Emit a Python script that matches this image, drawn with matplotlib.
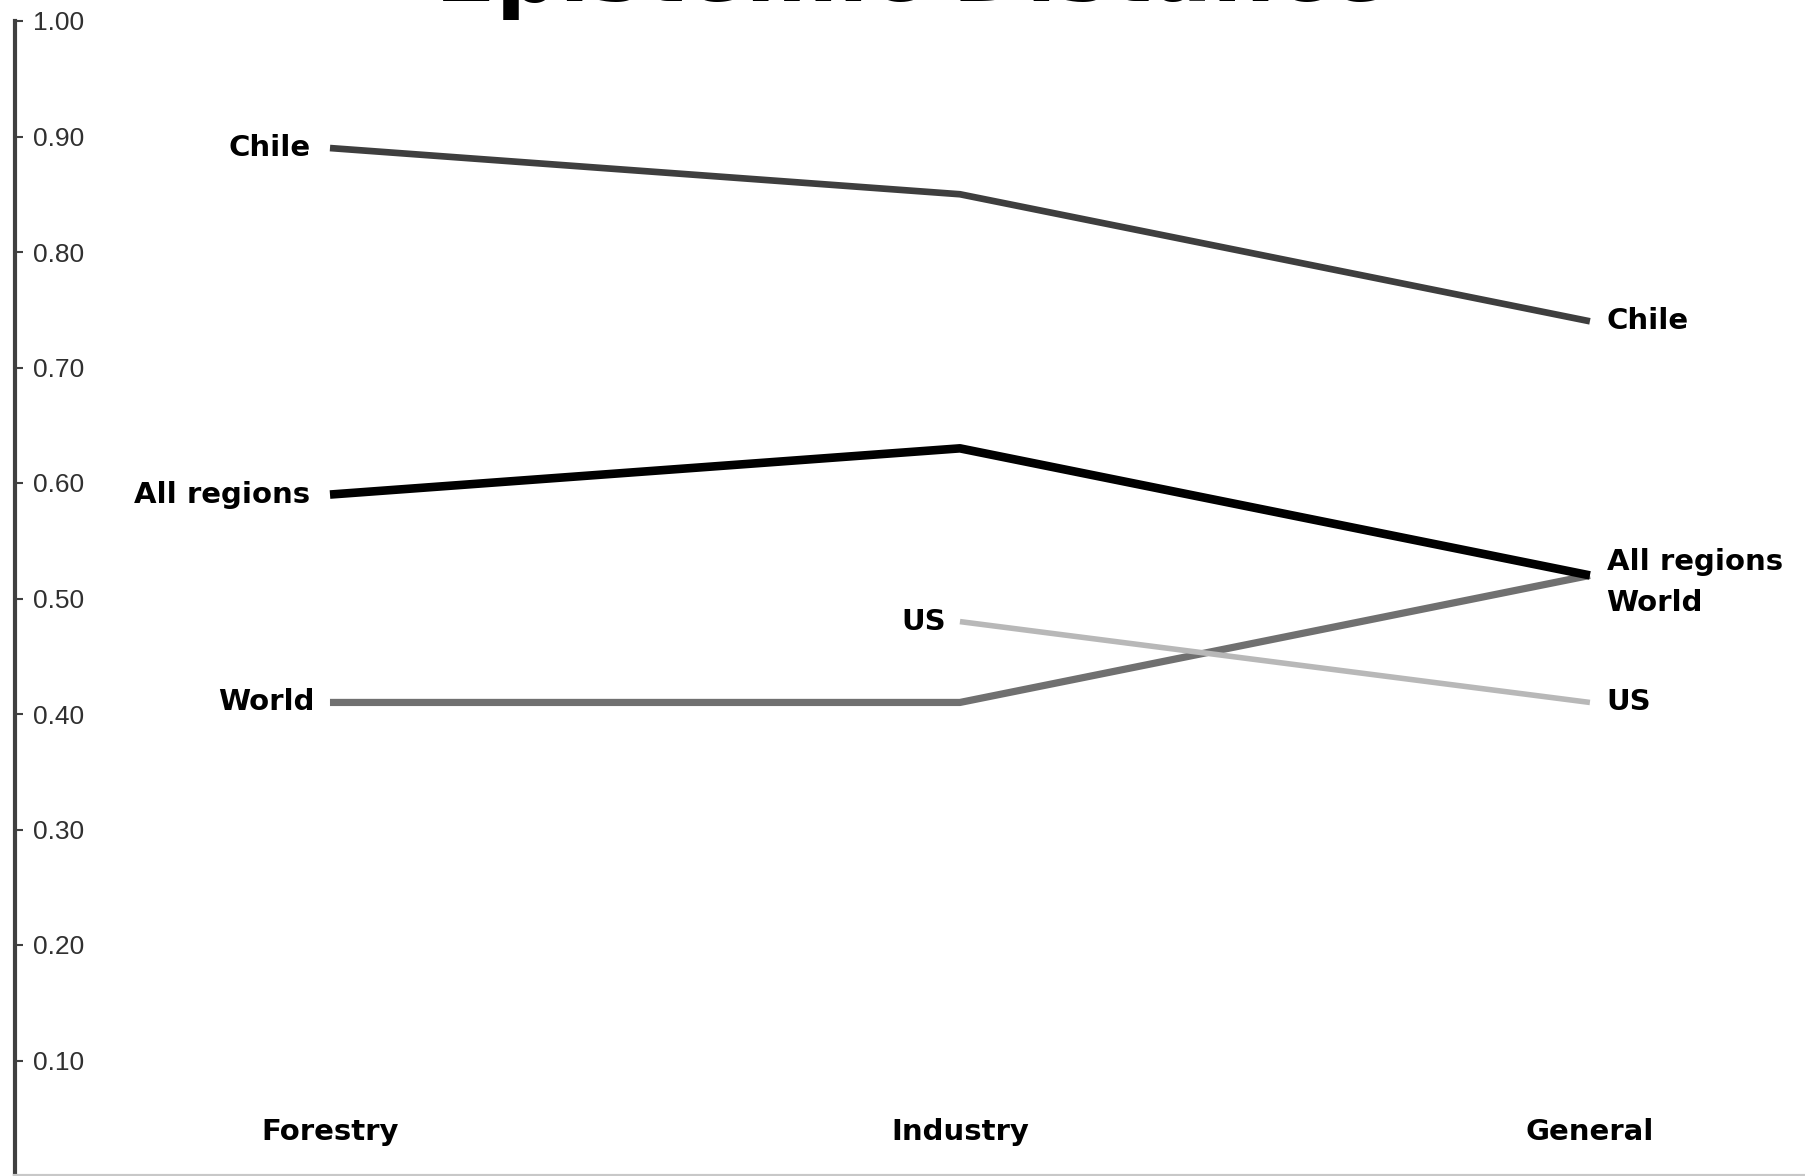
import matplotlib
matplotlib.use("Agg")
import matplotlib.pyplot as plt

# ---------- data ----------
categories = ["Forestry", "Industry", "General"]
chile = [0.89, 0.85, 0.74]
all_regions = [0.59, 0.63, 0.52]
world = [0.41, 0.41, 0.52]
us_x = [1, 2]          # US has no Forestry value
us = [0.48, 0.41]
yticks = [0.10, 0.20, 0.30, 0.40, 0.50, 0.60, 0.70, 0.80, 0.90, 1.00]

BOLD = dict(family="DejaVu Sans", fontweight="bold", fontsize=21, color="black")

fig = plt.figure(figsize=(18.06, 11.76), dpi=100)
ax = fig.add_axes([15 / 1806, 0.0, 1 - 15 / 1806, 1 - 21 / 1176])
ax.set_xlim(-0.5, 2.343)
ax.set_ylim(0, 1.0)

ax.plot(range(3), chile, color="#3e3e3e", linewidth=4.8, solid_capstyle="butt")
ax.plot(range(3), world, color="#707070", linewidth=5.2, solid_capstyle="butt")
ax.plot(us_x, us, color="#b8b8b8", linewidth=4.0, solid_capstyle="butt")
ax.plot(range(3), all_regions, color="black", linewidth=6.2, solid_capstyle="butt")

# series labels at line ends
def lab(text, x, y, dx, dy=0, ha="left"):
    ax.annotate(text, (x, y), xytext=(dx, dy), textcoords="offset points",
                ha=ha, va="center", **BOLD)

lab("Chile", 0, chile[0], -14, ha="right")
lab("All regions", 0, all_regions[0], -14, ha="right")
lab("World", 0, world[0], -11, ha="right")
lab("US", us_x[0], us[0], -10, ha="right")
lab("Chile", 2, chile[2], 12)
lab("All regions", 2, all_regions[2], 12, 10)
lab("World", 2, world[2], 12, -20)
lab("US", 2, us[1], 12)

# category names sit inside the plot near the bottom
for i, c in enumerate(categories):
    ax.text(i, 0.038, c, ha="center", va="center", **BOLD)

ax.set_xticks([])
ax.set_yticks(yticks)
ax.set_yticklabels([f"{v:.2f}" for v in yticks], family="Liberation Sans",
                   fontsize=19, color="#303030")
ax.tick_params(axis="y", direction="in", length=6, width=1.5, color="#404040", pad=-13)
for t in ax.get_yticklabels():
    t.set_ha("left")

for s in ("top", "right"):
    ax.spines[s].set_visible(False)
ax.spines["left"].set_linewidth(3)
ax.spines["left"].set_color("#404040")
ax.spines["bottom"].set_linewidth(3)
ax.spines["bottom"].set_color("#c8c8c8")

# title sits mostly above the canvas, only its lower edge shows
fig.text(0.505, 1 - 1 / 1176, "Epistemic Distance", ha="center", va="baseline",
         family="DejaVu Sans", fontweight="bold", fontsize=64)

fig.savefig("out.png", dpi=100)
